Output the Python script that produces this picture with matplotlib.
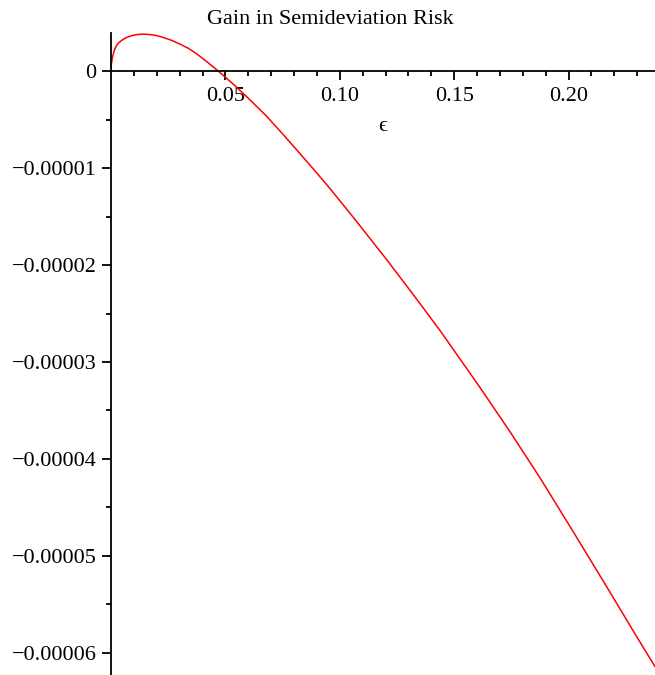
import numpy as np
import matplotlib
matplotlib.use('Agg')
from matplotlib import pyplot as plt
from matplotlib.ticker import FixedLocator, FixedFormatter

# values
eps = [0.0, 0.00013, 0.00031, 0.00057, 0.00087, 0.00131, 0.00175, 0.00240,
       0.00328, 0.00468, 0.00656, 0.00905, 0.01093, 0.01342, 0.01617,
       0.01923, 0.02273, 0.02653, 0.03016, 0.03379, 0.03715, 0.04108,
       0.04589, 0.04983, 0.05420, 0.06075, 0.06805, 0.07531, 0.08698,
       0.09572, 0.10590, 0.12050, 0.13213, 0.14393, 0.14961, 0.16128,
       0.17439, 0.18750, 0.20205, 0.21665, 0.22976, 0.23776]
# gain, in units of 1e-5
gain = [0.0, 0.064, 0.097, 0.136, 0.167, 0.208, 0.234, 0.265,
        0.293, 0.320, 0.347, 0.368, 0.378, 0.384, 0.382,
        0.373, 0.351, 0.320, 0.281, 0.238, 0.186, 0.115,
        0.023, -0.057, -0.148, -0.294, -0.464, -0.653, -0.967,
        -1.209, -1.506, -1.943, -2.304, -2.678, -2.869, -3.262,
        -3.718, -4.194, -4.751, -5.318, -5.833, -6.142]

x_major = [0.05, 0.10, 0.15, 0.20]
x_labels = ['0.05', '0.10', '0.15', '0.20']
y_major = [0, -1e-5, -2e-5, -3e-5, -4e-5, -5e-5, -6e-5]
y_labels = ['0', '\u22120.00001', '\u22120.00002', '\u22120.00003',
            '\u22120.00004', '\u22120.00005', '\u22120.00006']

serif = ['Liberation Serif', 'DejaVu Serif']
plt.rcParams['font.family'] = serif
plt.rcParams['font.size'] = 16

fig = plt.figure(figsize=(6.55, 6.75), dpi=100)
ax = fig.add_axes([111 / 655, 0.0, 544 / 655, 642 / 675])

ax.plot(eps, np.array(gain) * 1e-5, color='red', lw=1.1)
ax.set_xlim(0, 0.2378)
ax.set_ylim(-6.23e-5, 0.396e-5)

ax.spines['top'].set_visible(False)
ax.spines['right'].set_visible(False)
ax.spines['bottom'].set_position(('data', 0))
ax.spines['left'].set_position(('data', 0))
for s in ['bottom', 'left']:
    ax.spines[s].set_linewidth(1.3)

ax.xaxis.set_major_locator(FixedLocator(x_major))
ax.xaxis.set_major_formatter(FixedFormatter(x_labels))
ax.xaxis.set_minor_locator(FixedLocator([i / 100 for i in range(1, 24) if i % 5]))
ax.yaxis.set_major_locator(FixedLocator(y_major))
ax.yaxis.set_major_formatter(FixedFormatter(y_labels))
ax.yaxis.set_minor_locator(FixedLocator([-0.5e-5, -1.5e-5, -2.5e-5, -3.5e-5,
                                         -4.5e-5, -5.5e-5]))

ax.tick_params(which='major', length=6.5, width=1.3, direction='out')
ax.tick_params(which='minor', length=3.6, width=1.3, direction='out')
ax.tick_params(axis='x', which='major', pad=5)
ax.tick_params(axis='y', which='major', pad=4)

ax.text(0.5, 0.855, '\u03f5', transform=ax.transAxes, ha='center',
        va='center', fontsize=16, family=serif)
fig.text(330 / 655, 1 - 19 / 675, 'Gain in Semideviation Risk', ha='center',
         va='center', fontsize=16)

fig.savefig('out.png', dpi=100)
